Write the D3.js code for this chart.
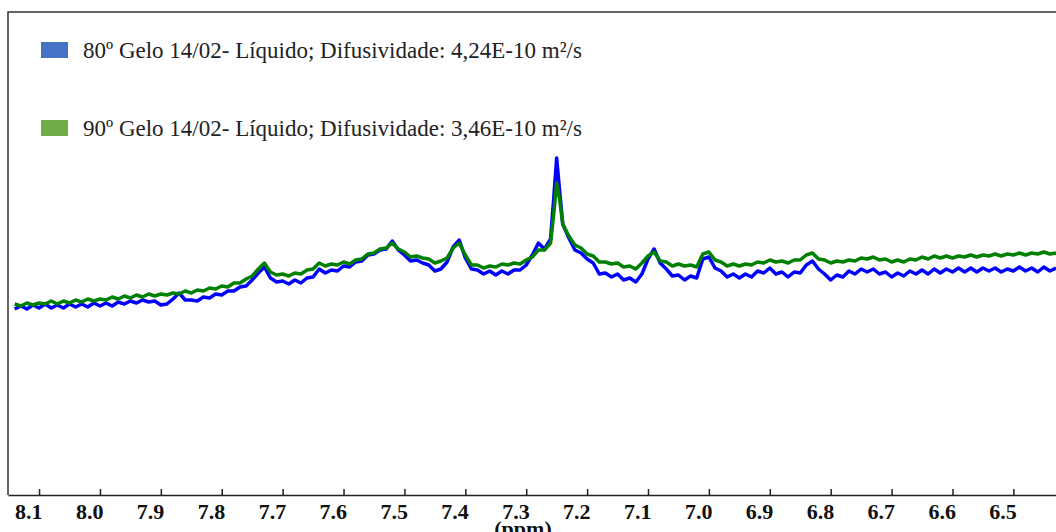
<!DOCTYPE html>
<html lang="en">
	<head>
		<meta charset="utf-8">
		<title>RMN DOSY - Gelo 14/02</title>
		<script type="text/javascript" src="https://d3js.org/d3.v7.min.js"></script>
		<style type="text/css">
			body { margin: 0; background: #fff; }
			.axis text, .unit { font-family: "Liberation Serif", "Times New Roman", "DejaVu Serif", serif; font-weight: bold; font-size: 22px; fill: #111; }
			.axis path, .axis line { stroke: #222; stroke-width: 1.5; }
			.legend text { font-family: "Liberation Serif", "Times New Roman", "DejaVu Serif", serif; font-size: 23px; fill: #222; }
		</style>
	</head>
	<body>
		<div id="spectrum"></div>

		<script type="text/javascript">

	// chemical shift (ppm) of each sampled point
	var ppm = [8.14,8.13,8.12,8.11,8.10,8.09,8.08,8.07,8.06,8.05,
		8.04,8.03,8.02,8.01,8.00,7.99,7.98,7.97,7.96,7.95,
		7.94,7.93,7.92,7.91,7.90,7.89,7.88,7.87,7.86,7.85,
		7.84,7.83,7.82,7.81,7.80,7.79,7.78,7.77,7.76,7.75,
		7.74,7.73,7.72,7.71,7.70,7.69,7.68,7.67,7.66,7.65,
		7.64,7.63,7.62,7.61,7.60,7.59,7.58,7.57,7.56,7.55,
		7.54,7.53,7.52,7.51,7.50,7.49,7.48,7.47,7.46,7.45,
		7.44,7.43,7.42,7.41,7.40,7.39,7.38,7.37,7.36,7.35,
		7.34,7.33,7.32,7.31,7.30,7.29,7.28,7.27,7.26,7.255,
		7.25,7.245,7.24,7.23,7.22,7.21,7.20,7.19,7.18,7.17,
		7.16,7.15,7.14,7.13,7.12,7.11,7.10,7.09,7.08,7.07,
		7.06,7.05,7.04,7.03,7.02,7.01,7.00,6.99,6.98,6.97,
		6.96,6.95,6.94,6.93,6.92,6.91,6.90,6.89,6.88,6.87,
		6.86,6.85,6.84,6.83,6.82,6.81,6.80,6.79,6.78,6.77,
		6.76,6.75,6.74,6.73,6.72,6.71,6.70,6.69,6.68,6.67,
		6.66,6.65,6.64,6.63,6.62,6.61,6.60,6.59,6.58,6.57,
		6.56,6.55,6.54,6.53,6.52,6.51,6.50,6.49,6.48,6.47,
		6.46,6.45,6.44,6.43]

	// 80º sample (blue), arbitrary intensity
	var int80 = [186,189,186,190,187,191,187,190,187,191,
		188,191,188,192,189,192,189,193,191,194,
		192,195,193,194,190,191,196,202,195,195,
		194,198,197,201,200,204,204,208,209,215,
		222,228,217,213,214,211,215,212,217,218,
		226,222,225,224,229,228,233,234,240,241,
		245,246,254,245,240,234,235,232,230,224,
		226,233,248,255,237,226,225,221,224,220,
		224,221,225,225,230,240,252,246,256,295,
		337,303,271,257,245,242,236,232,221,222,
		218,221,215,217,213,221,236,246,232,226,
		219,220,215,219,217,236,238,227,224,218,
		221,217,221,218,224,222,227,221,223,218,
		223,222,230,234,226,221,215,220,218,224,
		221,226,223,226,221,223,218,222,219,224,
		221,225,221,226,222,226,223,227,223,227,
		223,227,224,227,223,226,224,228,224,227,
		223,228,224,227]

	// 90º sample (green), arbitrary intensity
	var int90 = [191,189,192,190,192,191,194,191,194,192,
		195,193,196,194,196,195,198,196,199,197,
		200,198,201,199,201,200,202,201,204,202,
		205,204,207,206,209,208,212,212,216,219,
		226,232,223,220,221,219,222,221,225,226,
		232,229,231,230,233,231,235,236,241,242,
		246,247,252,246,243,238,239,237,236,232,
		234,237,247,252,240,230,230,227,229,228,
		231,230,232,231,235,238,245,245,252,280,
		312,295,271,259,250,247,241,239,233,233,
		231,232,228,229,226,232,239,243,234,233,
		229,231,229,230,228,241,243,235,233,229,
		231,229,231,230,233,232,235,233,234,232,
		235,235,240,242,236,235,232,234,233,235,
		234,237,236,238,235,236,233,235,233,236,
		235,238,236,239,237,239,237,239,238,240,
		238,240,239,241,239,241,240,242,240,242,
		241,243,241,242]

	var tickVals = [8.1,8.0,7.9,7.8,7.7,7.6,7.5,7.4,7.3,7.2,7.1,7.0,6.9,6.8,6.7,6.6,6.5]
	var seriesNames = ["80º Gelo 14/02- Líquido; Difusividade: 4,24E-10 m²/s",
		"90º Gelo 14/02- Líquido; Difusividade: 3,46E-10 m²/s"]
	var lineColors = ["#0000ff", "#008000"]
	var keyColors = ["#4472c4", "#70ad47"]

	drawSpectrum()

	function drawSpectrum(){
		var w = 1056
		var h = 532
		var left = 8
		var top = 12
		var axisY = 495

		var svg = d3.select("#spectrum")
				.append("svg")
				.attr("width",w)
				.attr("height",h)

		var xScale = d3.scaleLinear()
			.domain([8.151,6.43])
			.range([left,w])

		var yScale = d3.scaleLinear()
			.domain([0,axisY-top])
			.range([axisY,top])

		// frame: top and left edges
		svg.append("path")
			.attr("d","M" + left + "," + axisY + "V" + top + "H" + w)
			.attr("fill","none")
			.attr("stroke","#333")
			.attr("stroke-width",1.5)

		var line = d3.line()
			.x(function(d){ return xScale(d[0]) })
			.y(function(d){ return yScale(d[1]) })

		var all = [int80, int90]
		all.forEach(function(vals,k){
			svg.append("path")
				.datum(ppm.map(function(p,i){ return [p, vals[i]] }))
				.attr("d",line)
				.attr("fill","none")
				.attr("stroke",lineColors[k])
				.attr("stroke-width",3.5)
				.attr("stroke-linejoin","round")
		})

		var xAxis = d3.axisBottom(xScale)
			.tickValues(tickVals)
			.tickFormat(d3.format(".1f"))
			.tickSizeInner(-6)
			.tickSizeOuter(0)

		var gx = svg.append("g")
			.attr("class","axis")
			.attr("transform","translate(0," + axisY + ")")
			.call(xAxis)
		gx.selectAll("text")
			.attr("text-anchor","end")
			.attr("dx",3)
			.attr("y",8)

		svg.append("text")
			.attr("class","unit")
			.attr("x",523)
			.attr("y",536)
			.attr("text-anchor","middle")
			.text("(ppm)")

		var legend = svg.append("g").attr("class","legend")
		seriesNames.forEach(function(name,k){
			var ly = 42 + k*78
			legend.append("rect")
				.attr("x",41)
				.attr("y",ly)
				.attr("width",27)
				.attr("height",16)
				.attr("fill",keyColors[k])
			legend.append("text")
				.attr("x",83)
				.attr("y",ly+16)
				.text(name)
		})
	}
		</script>
	</body>
</html>
